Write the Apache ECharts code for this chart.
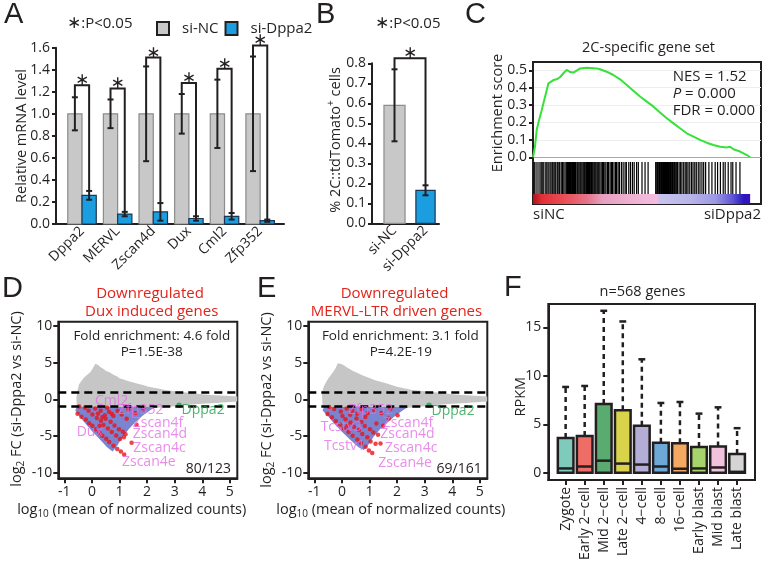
<!DOCTYPE html>
<html><head><meta charset="utf-8">
<script src="https://cdn.jsdelivr.net/npm/echarts@6.0.0/dist/echarts.min.js"></script>
<style>html,body{margin:0;padding:0;background:#fff;}#chart{width:762px;height:563px;}</style>
</head><body><div id="chart"></div>
<script>
// ================= DATA =================
// Panel A
const genesA = ['Dppa2', 'MERVL', 'Zscan4d', 'Dux', 'Cml2', 'Zfp352'];
const ncMeanA = [1.0, 1.0, 1.0, 1.0, 1.0, 1.0];
const ncErrA = [0.15, 0.13, 0.43, 0.18, 0.31, 0.52];
const kdMeanA = [0.26, 0.09, 0.11, 0.05, 0.07, 0.03];
const kdErrA = [0.04, 0.02, 0.08, 0.02, 0.03, 0.01];
const sigLevelA = [1.26, 1.23, 1.51, 1.28, 1.41, 1.62];
const legendA = ['si-NC', 'si-Dppa2'];
// Panel B
const groupsB = ['si-NC', 'si-Dppa2'];
const meanB = [0.59, 0.165];
const errB = [0.18, 0.025];
const sigLevelB = 0.825;
// Panel C (GSEA)
const esRank = [0, 0.9, 1.7, 2.8, 4.0, 4.8, 6.0, 7.1, 7.8, 9.4, 10.9, 12.4, 14.0, 15.5, 17.1, 18.6, 20.1, 21.7, 24.7, 29.3, 30.9, 33.9, 37.0, 40.1, 43.2, 46.2, 49.3, 52.4, 55.5, 58.5, 61.6, 64.7, 67.7, 70.8, 73.9, 76.9, 80.0, 83.1, 86.2, 89.2, 90.8, 92.3, 95.4, 98.5, 100];
const esScore = [0, 0.06, 0.157, 0.215, 0.27, 0.31, 0.37, 0.425, 0.435, 0.444, 0.448, 0.46, 0.483, 0.502, 0.49, 0.487, 0.498, 0.511, 0.515, 0.511, 0.506, 0.492, 0.473, 0.448, 0.416, 0.383, 0.349, 0.32, 0.291, 0.257, 0.224, 0.195, 0.167, 0.138, 0.119, 0.10, 0.084, 0.071, 0.061, 0.057, 0.061, 0.046, 0.033, 0.013, 0];
const hitRank = [0.6, 1.4, 2.3, 3.2, 3.8, 4.5, 5.0, 5.9, 6.4, 7.0, 7.8, 8.3, 8.9, 9.6, 10.1, 10.5, 11.2, 11.9, 12.3, 13.0, 13.6, 14.2, 14.8,
  15.5, 15.9, 16.4, 16.8, 17.3, 17.8, 18.2, 18.7, 19.1, 19.6, 20.2, 20.6, 21.1, 21.6, 22.0, 22.5,
  23.0, 23.4, 23.8, 24.3, 24.7, 25.1, 25.6, 26.0, 26.4, 26.9, 27.3, 27.7, 28.2, 28.6, 29.0, 29.5, 29.9, 30.3, 30.8,
  31.4, 32.0, 32.5, 33.1, 33.6, 34.3, 34.8, 35.5, 36.1, 36.6, 37.3, 38.0, 38.5, 39.2, 39.8,
  40.7, 41.5, 42.4, 43.0, 44.1, 44.9, 45.8, 46.6, 47.7, 48.5, 50.2, 51.6, 53.0,
  56.5, 57.0, 57.4, 57.9, 58.3, 58.8, 59.2, 59.7, 60.1, 60.6, 61.0, 61.5, 61.9, 62.4, 62.8, 63.3, 63.7, 64.2, 64.6, 65.1, 65.5, 66.0, 66.6,
  67.3, 68.0, 68.6, 69.4, 70.1, 70.8, 71.4, 72.2, 73.0, 73.7, 74.5, 75.2, 76.1, 76.9, 77.8, 78.6, 79.5,
  81.0, 82.4, 83.9, 85.0, 86.3, 87.6, 88.5, 89.9, 91.2, 92.0, 93.5, 95.3];
const rankColorStops = [[0, '#b0101c'], [4, '#e03038'], [15, '#ec5058'], [25, '#e47488'], [32, '#e8a0c0'], [50, '#f2b6d8'], [57, '#f4bce0'], [58, '#c8c4ec'], [72, '#b8b6ea'], [84, '#9c98e4'], [92, '#5c54d4'], [97, '#2a18c0'], [100, '#3a10b8']];
const statsC = ['NES = 1.52', '{i|P} = 0.000', 'FDR = 0.000'];
const axisEndsC = ['siNC', 'siDppa2'];
// Panel D (MA plot, Dux induced genes)
const dGray = [[-0.55, -1.05], [-0.56, 0.3], [-0.52, 1.2], [-0.47, 2.0], [-0.38, 2.5], [-0.3, 2.9], [-0.18, 3.3], [-0.05, 3.7], [0.03, 4.2], [0.12, 4.8], [0.22, 4.7], [0.3, 4.4], [0.4, 4.2], [0.5, 3.9], [0.62, 3.7], [0.8, 3.3], [0.92, 3.1], [1.0, 2.85], [1.15, 2.7], [1.3, 2.5], [1.5, 2.3], [1.7, 2.1], [1.85, 1.95], [2.05, 1.7], [2.2, 1.6], [2.45, 1.45], [2.6, 1.3], [2.85, 1.15], [3.0, 1.1], [3.3, 0.95], [3.5, 0.9], [3.8, 0.75], [4.0, 0.7], [4.3, 0.6], [4.5, 0.55], [5.0, 0.45], [5.27, 0.4], [5.27, -0.3], [4.5, -0.5], [4.0, -0.6], [3.5, -0.75], [3.0, -0.95], [2.6, -1.1], [2.3, -1.15], [2.0, -1.05]];
const dBlue = [[-0.55, -1.05], [2.3, -1.05], [2.1, -1.5], [1.85, -2.2], [1.6, -3.0], [1.35, -4.0], [1.1, -5.2], [0.9, -6.4], [0.75, -7.1], [0.55, -6.5], [0.3, -5.5], [0.0, -4.3], [-0.25, -3.2], [-0.45, -2.3], [-0.6, -1.5]];
const dRed = [[-0.46, -0.98], [-0.52, -1.95], [-0.38, -2.35], [-0.22, -2.75], [-0.1, -3.25], [0.02, -3.6], [0.14, -4.05], [0.27, -4.5], [0.38, -4.95], [0.52, -5.35], [0.63, -5.8], [0.78, -6.3], [0.92, -6.75], [1.05, -7.1], [1.17, -7.5],
  [-0.12, -1.55], [0.02, -2.05], [0.18, -2.55], [0.33, -2.9], [0.42, -3.5], [0.58, -3.95], [0.72, -4.45], [0.88, -4.9], [1.02, -5.4], [1.16, -5.15],
  [0.5, -2.65], [0.68, -3.05], [0.82, -3.55], [0.98, -4.05], [1.12, -4.4], [1.22, -4.75],
  [-0.25, -1.15], [0.12, -1.25], [0.32, -1.55], [0.47, -2.15], [0.62, -1.7], [0.78, -2.25], [0.93, -1.55], [1.08, -2.05], [1.26, -2.65], [1.32, -1.35], [1.62, -3.47], [1.44, -5.9], [1.58, -1.85], [1.87, -1.25], [0.38, -2.45], [0.22, -1.95], [0.55, -1.15], [0.72, -1.95], [0.28, -3.6]];
const dDppa2 = [3.16, -0.82];
const dLabelNames = ['Cml2', 'Zfp352', 'Dux', 'Zscan4f', 'Zscan4d', 'Zscan4c', 'Zscan4e', 'Dppa2'];
const dLabelAt = [[0.11, -0.2], [0.95, -1.5], [-0.55, -4.47], [1.48, -3.15], [1.48, -4.7], [1.5, -6.66], [1.09, -8.53], [3.25, -1.5]];
const dNotes = ['Downregulated', 'Dux induced genes', 'Fold enrichment: 4.6 fold', 'P=1.5E-38', '80/123'];
// Panel E (MA plot, MERVL-LTR driven genes)
const eGray = [[-0.7, -1.05], [-0.72, 0.5], [-0.7, 1.2], [-0.66, 1.7], [-0.58, 2.3], [-0.5, 2.8], [-0.4, 3.3], [-0.3, 3.8], [-0.22, 4.3], [-0.15, 4.9], [-0.02, 4.8], [0.1, 4.55], [0.2, 4.3], [0.3, 4.1], [0.42, 3.8], [0.55, 3.6], [0.7, 3.35], [0.85, 3.1], [1.0, 2.9], [1.2, 2.6], [1.4, 2.4], [1.6, 2.2], [1.8, 1.95], [2.0, 1.7], [2.25, 1.5], [2.5, 1.3], [2.75, 1.2], [3.0, 1.1], [3.5, 0.9], [4.0, 0.7], [4.5, 0.55], [5.0, 0.45], [5.27, 0.4], [5.27, -0.3], [4.5, -0.5], [4.0, -0.6], [3.5, -0.75], [3.0, -0.95], [2.6, -1.1], [2.3, -1.15], [2.0, -1.05]];
const eBlue = [[-0.65, -1.05], [2.4, -1.05], [2.2, -1.5], [1.95, -2.2], [1.7, -3.0], [1.4, -4.0], [1.15, -5.1], [0.95, -6.2], [0.8, -6.9], [0.6, -6.5], [0.3, -5.5], [0.0, -4.4], [-0.3, -3.2], [-0.5, -2.3], [-0.7, -1.5]];
const eRed = [[-0.46, -1.04], [-0.28, -1.3], [-0.04, -1.64], [0.17, -1.25], [0.38, -1.55], [0.72, -1.3], [0.93, -1.9], [1.17, -1.45], [1.43, -1.85], [1.76, -1.28], [2.02, -2.15],
  [-0.52, -1.98], [-0.36, -2.45], [-0.22, -2.95], [-0.06, -3.45], [0.08, -3.95], [0.24, -4.45], [0.39, -4.95], [0.56, -5.45], [0.69, -5.95], [0.86, -6.45], [0.98, -6.95], [1.1, -7.3],
  [0.02, -2.25], [0.13, -2.7], [0.31, -3.15], [0.44, -3.72], [0.62, -4.15], [0.74, -4.72], [0.92, -5.15], [1.04, -5.72], [1.22, -6.05],
  [0.53, -2.62], [0.71, -3.08], [0.83, -3.63], [1.02, -4.05], [1.14, -4.52], [1.31, -4.82],
  [0.3, -2.1], [0.85, -2.4], [1.25, -3.3], [1.5, -3.6], [1.4, -6.0], [1.7, -2.6], [0.55, -1.95], [0.2, -3.6]];
const eDppa2 = [3.16, -0.82];
const eLabelNames = ['Zfp352', 'Tcstv3', 'Tcstv1', 'Zscan4f', 'Zscan4d', 'Zscan4c', 'Zscan4e', 'Dppa2'];
const eLabelAt = [[0.22, -1.41], [-0.77, -3.7], [-0.65, -6.3], [1.48, -3.15], [1.39, -4.74], [1.56, -6.66], [1.32, -8.63], [3.25, -1.55]];
const eNotes = ['Downregulated', 'MERVL-LTR driven genes', 'Fold enrichment: 3.1 fold', 'P=4.2E-19', '69/161'];
const maTicksX = [-1, 0, 1, 2, 3, 4, 5];
const maTicksY = [-10, -5, 0, 5, 10];
// Panel F (boxplots)
const stagesF = ['Zygote', 'Early 2\u2212cell', 'Mid 2\u2212cell', 'Late 2\u2212cell', '4\u2212cell', '8\u2212cell', '16\u2212cell', 'Early blast', 'Mid blast', 'Late blast'];
const q1F = [0, 0, 0, 0, 0, 0, 0, 0, 0, 0];
const medF = [0.45, 0.65, 1.25, 0.95, 0.85, 0.65, 0.42, 0.45, 0.55, 0.1];
const q3F = [3.6, 3.8, 7.1, 6.45, 4.85, 3.1, 3.05, 2.65, 2.72, 1.95];
const hiF = [8.85, 8.95, 16.7, 15.6, 11.7, 7.2, 7.3, 6.1, 6.75, 4.6];
const ticksF = [0, 5, 10, 15];
const titleF = 'n=568 genes';

// ================= STYLE =================
const FONT = "'Open Sans', 'DejaVu Sans', sans-serif";
const LFONT = "'Liberation Sans', Arial, sans-serif";
const AX = '#231f20';
const GRAY = '#c8c8c8', BLUE = '#1a9ee0';
const RED = '#e2231a', VIOLET = '#e46fe6', GREEN = '#22a24a';
const colorsF = ['#7fcbbb', '#ee6e67', '#5aab70', '#d9d34b', '#b4aed6', '#6ea8d6', '#f4a862', '#a6d36a', '#f2c2dc', '#d5d5d5'];
const STAR = "17px 'DejaVu Sans'";

const axLine = { show: true, onZero: false, lineStyle: { color: AX, width: 2 } };
const axTick = { show: true, inside: false, length: 4, lineStyle: { color: AX, width: 2 } };
const lab = o => Object.assign({ color: AX, fontSize: 14, fontFamily: FONT }, o);
const noSplit = { show: false };

function barErr(dc, hw, fills, strokes) {
  return (p, api) => {
    const i = api.value(0), m = api.value(1), e = api.value(2);
    const k = p.dataIndex;
    const fill = Array.isArray(fills) ? fills[k] : fills;
    const stroke = Array.isArray(strokes) ? strokes[k] : strokes;
    const xc = i + dc;
    const halfW = Array.isArray(hw) ? hw[k] : hw;
    const a = api.coord([xc - halfW, m]), b = api.coord([xc + halfW, 0]);
    const t = api.coord([xc, m + e]), bt = api.coord([xc, Math.max(m - e, 0)]);
    const cap = 3;
    return { type: 'group', children: [
      { type: 'rect', shape: { x: a[0], y: a[1], width: b[0] - a[0], height: b[1] - a[1] }, style: { fill: fill, stroke: stroke, lineWidth: 1.2 } },
      { type: 'line', shape: { x1: t[0], y1: t[1], x2: bt[0], y2: bt[1] }, style: { stroke: AX, lineWidth: 2 } },
      { type: 'line', shape: { x1: t[0] - cap, y1: t[1], x2: t[0] + cap, y2: t[1] }, style: { stroke: AX, lineWidth: 2 } },
      { type: 'line', shape: { x1: bt[0] - cap, y1: bt[1], x2: bt[0] + cap, y2: bt[1] }, style: { stroke: AX, lineWidth: 2 } }
    ] };
  };
}
function bracket(dx) {
  return (p, api) => {
    const i = api.value(0), a = api.value(1), b = api.value(2), L = api.value(3);
    const pts = [api.coord([i - dx, a]), api.coord([i - dx, L]), api.coord([i + dx, L]), api.coord([i + dx, b])];
    const c = api.coord([i, L]);
    return { type: 'group', children: [
      { type: 'polyline', shape: { points: pts }, style: { stroke: AX, lineWidth: 2, fill: null } },
      { type: 'text', x: c[0], y: c[1] + 4, style: { text: '\u2217', font: STAR, fill: AX, align: 'center', verticalAlign: 'bottom' } }
    ] };
  };
}
function poly(gi, pts, color) {
  return { type: 'custom', xAxisIndex: gi, yAxisIndex: gi, silent: true, clip: true, data: [[0, 0]],
    renderItem: (p, api) => ({ type: 'polygon', shape: { points: pts.map(q => api.coord(q)) }, style: { fill: color } }) };
}
function maSeries(gi, gray, blue, red, dppa, names, at) {
  return [
    poly(gi, gray, '#c6c6c6'),
    poly(gi, blue, '#7b85cf'),
    { type: 'scatter', xAxisIndex: gi, yAxisIndex: gi, silent: true, symbolSize: 4.5, itemStyle: { color: '#e8141c' }, data: red,
      markLine: { silent: true, symbol: 'none', label: { show: false }, lineStyle: { color: '#000', type: [8, 5], width: 2.5 }, data: [{ yAxis: 1 }, { yAxis: -1 }] } },
    { type: 'scatter', xAxisIndex: gi, yAxisIndex: gi, silent: true, symbolSize: 5.5, itemStyle: { color: GREEN }, data: [dppa] },
    { type: 'scatter', xAxisIndex: gi, yAxisIndex: gi, silent: true, symbolSize: 0, z: 10,
      data: names.map((n, k) => ({ value: at[k], name: n, label: { color: n === 'Dppa2' ? GREEN : VIOLET } })),
      label: { show: true, position: 'right', distance: 0, formatter: '{b}', fontSize: 14, fontFamily: FONT } }
  ];
}
function maAxesX(gi) {
  return { gridIndex: gi, type: 'value', min: -1.217, max: 5.27, axisLine: axLine,
    axisTick: Object.assign({}, axTick, { length: 5, customValues: maTicksX }),
    axisLabel: lab({ customValues: maTicksX, margin: 7 }), splitLine: noSplit };
}
function maAxesY(gi) {
  return { gridIndex: gi, type: 'value', min: -10.73, max: 10.55, axisLine: axLine,
    axisTick: Object.assign({}, axTick, { length: 5, customValues: maTicksY }),
    axisLabel: lab({ customValues: maTicksY, margin: 6 }), splitLine: noSplit };
}

// text helpers
function txt(x, y, s, o) {
  o = o || {};
  return { type: 'text', x: x, y: y, rotation: o.rot || 0, z: 100,
    style: { text: s, font: (o.italic ? 'italic ' : '') + (o.size || 14) + 'px ' + (o.family || FONT), fill: o.color || AX,
      align: o.align || 'left', verticalAlign: 'middle', rich: o.rich } };
}
const richSub = (size) => ({ t: { fontSize: size, fontFamily: FONT, fill: AX }, s: { fontSize: 10, fontFamily: FONT, fill: AX, verticalAlign: 'bottom', padding: [9, 0, 0, 0] } });

const graphics = [
  txt(4, 15, 'A', { size: 29, family: LFONT }),
  txt(316, 15, 'B', { size: 29, family: LFONT }),
  txt(465, 15, 'C', { size: 29, family: LFONT }),
  txt(2, 289, 'D', { size: 29, family: LFONT }),
  txt(257, 289, 'E', { size: 29, family: LFONT }),
  txt(504, 288, 'F', { size: 29, family: LFONT }),
  txt(67, 24, '{a|\u2217}:P<0.05', { size: 15, rich: { a: { font: STAR, fill: AX } } }),
  txt(375, 24, '{a|\u2217}:P<0.05', { size: 15, rich: { a: { font: STAR, fill: AX } } }),
  txt(22, 136, 'Relative mRNA level', { size: 14.5, rot: Math.PI / 2, align: 'center' }),
  txt(335.5, 140, '% 2C::tdTomato{p|+} cells', { size: 14.5, rot: Math.PI / 2, align: 'center', rich: { p: { fontSize: 10, fontFamily: FONT, fill: AX, verticalAlign: 'top', padding: [0, 0, 9, 0] } } }),
  txt(648.5, 48, '2C-specific gene set', { size: 14.5, align: 'center' }),
  txt(497.5, 113, 'Enrichment score', { size: 14.5, rot: Math.PI / 2, align: 'center' }),
  txt(672.7, 76.7, statsC[0], { size: 15 }),
  txt(672.7, 93.5, statsC[1], { size: 15, rich: { i: { fontStyle: 'italic', fontSize: 15, fontFamily: FONT, fill: AX } } }),
  txt(672.7, 111, statsC[2], { size: 15 }),
  txt(533, 215, axisEndsC[0], { size: 15 }),
  txt(761, 215, axisEndsC[1], { size: 15, align: 'right' }),
  // D
  txt(150, 293.5, dNotes[0], { size: 15, align: 'center', color: RED }),
  txt(151.7, 311.5, dNotes[1], { size: 15, align: 'center', color: RED }),
  txt(151.8, 335.8, dNotes[2], { size: 13.5, align: 'center' }),
  txt(151.7, 352.3, dNotes[3], { size: 13.5, align: 'center' }),
  txt(231, 469.3, dNotes[4], { size: 14, align: 'right' }),
  txt(17, 399, '{t|log}{s|2}{t| FC (si-Dppa2 vs si-NC)}', { size: 14.5, rot: Math.PI / 2, align: 'center', rich: richSub(14.5) }),
  txt(131.7, 510, '{t|log}{s|10}{t| (mean of normalized counts)}', { size: 14.5, align: 'center', rich: richSub(14.5) }),
  // E
  txt(394.5, 293.5, eNotes[0], { size: 15, align: 'center', color: RED }),
  txt(396.5, 311.5, eNotes[1], { size: 15, align: 'center', color: RED }),
  txt(400.3, 335.8, eNotes[2], { size: 13.5, align: 'center' }),
  txt(400.8, 352.3, eNotes[3], { size: 13.5, align: 'center' }),
  txt(481.7, 469.3, eNotes[4], { size: 14, align: 'right' }),
  txt(267, 400, '{t|log}{s|2}{t| FC (si-Dppa2 vs si-NC)}', { size: 14.5, rot: Math.PI / 2, align: 'center', rich: richSub(14.5) }),
  txt(390.8, 510, '{t|log}{s|10}{t| (mean of normalized counts)}', { size: 14.5, align: 'center', rich: richSub(14.5) }),
  // F
  txt(642.5, 292, titleF, { size: 14.5, align: 'center' }),
  txt(521, 396.7, 'RPKM', { size: 14.5, rot: Math.PI / 2, align: 'center' })
];

const option = {
  animation: false,
  backgroundColor: '#fff',
  legend: { left: 151, top: 16, icon: 'rect', itemWidth: 12, itemHeight: 13, itemGap: 6,
    textStyle: { fontSize: 15, fontFamily: FONT, color: AX, padding: [0, 0, 0, 8] },
    data: legendA.map(n => ({ name: n, itemStyle: { borderColor: AX, borderWidth: 2 } })) },
  grid: [
    { left: 56, top: 47.7, width: 228, height: 176.3 },
    { left: 372, top: 63.3, width: 67, height: 160 },
    { left: 533, top: 62, width: 228, height: 142, show: true, borderColor: AX, borderWidth: 2, backgroundColor: 'transparent' },
    { left: 533, top: 70.3, width: 228, height: 87 },
    { left: 533, top: 162, width: 228, height: 42 },
    { left: 58.3, top: 321.7, width: 179, height: 156.6, show: true, borderColor: AX, borderWidth: 2, backgroundColor: 'transparent' },
    { left: 308.3, top: 321.7, width: 179, height: 156.6, show: true, borderColor: AX, borderWidth: 2, backgroundColor: 'transparent' },
    { left: 548.3, top: 304, width: 206.7, height: 181, show: true, borderColor: AX, borderWidth: 2, backgroundColor: 'transparent' }
  ],
  xAxis: [
    { gridIndex: 0, type: 'value', min: -0.73, max: 5.67, axisLine: axLine, axisTick: { show: false }, splitLine: noSplit,
      axisLabel: lab({ customValues: [0, 1, 2, 3, 4, 5], formatter: v => genesA[Math.round(v)], rotate: 45, margin: 5 }) },
    { gridIndex: 1, type: 'value', min: -0.726, max: 1.435, axisLine: axLine, axisTick: { show: false }, splitLine: noSplit,
      axisLabel: lab({ customValues: [0, 1], formatter: v => groupsB[Math.round(v)], rotate: 45, margin: 5 }) },
    { gridIndex: 2, type: 'value', min: 0, max: 1, show: false },
    { gridIndex: 3, type: 'value', min: 0, max: 105, show: false },
    { gridIndex: 4, type: 'value', min: 0, max: 105, show: false },
    maAxesX(5), maAxesX(6),
    { gridIndex: 7, type: 'value', min: -0.91, max: 9.94, axisLine: axLine,
      axisTick: Object.assign({}, axTick, { length: 5, customValues: [0, 1, 2, 3, 4, 5, 6, 7, 8, 9] }),
      axisLabel: lab({ customValues: [0, 1, 2, 3, 4, 5, 6, 7, 8, 9], formatter: v => stagesF[Math.round(v)], rotate: 90, margin: 7 }), splitLine: noSplit }
  ],
  yAxis: [
    { gridIndex: 0, type: 'value', min: 0, max: 1.6, interval: 0.2, axisLine: axLine, axisTick: axTick, splitLine: noSplit,
      axisLabel: lab({ formatter: v => v.toFixed(1), margin: 6 }) },
    { gridIndex: 1, type: 'value', min: 0, max: 0.8, interval: 0.1, axisLine: axLine, axisTick: axTick, splitLine: noSplit,
      axisLabel: lab({ formatter: v => v.toFixed(1), margin: 6 }) },
    { gridIndex: 2, type: 'value', min: 0, max: 1, show: false },
    { gridIndex: 3, type: 'value', min: 0, max: 0.5, interval: 0.1, axisLine: axLine, axisTick: axTick,
      axisLabel: lab({ formatter: v => v.toFixed(1), margin: 6 }),
      splitLine: { show: true, lineStyle: { color: ['#a8a8a8', '#ededed', '#ededed', '#ededed', '#ededed', '#ededed'], width: 1 } } },
    { gridIndex: 4, type: 'value', min: 0, max: 1, show: false },
    maAxesY(5), maAxesY(6),
    { gridIndex: 7, type: 'value', min: -0.73, max: 17.4, axisLine: axLine,
      axisTick: Object.assign({}, axTick, { length: 5, customValues: ticksF }),
      axisLabel: lab({ customValues: ticksF, margin: 7 }), splitLine: noSplit }
  ],
  series: [
    // A
    { type: 'custom', name: legendA[0], xAxisIndex: 0, yAxisIndex: 0, itemStyle: { color: GRAY }, silent: true,
      data: genesA.map((g, i) => [i, ncMeanA[i], ncErrA[i]]), renderItem: barErr(-0.2, 0.2, GRAY, '#8c8c8c') },
    { type: 'custom', name: legendA[1], xAxisIndex: 0, yAxisIndex: 0, itemStyle: { color: BLUE }, silent: true,
      data: genesA.map((g, i) => [i, kdMeanA[i], kdErrA[i]]), renderItem: barErr(0.2, 0.2, BLUE, '#1c3550') },
    { type: 'custom', xAxisIndex: 0, yAxisIndex: 0, silent: true, clip: false,
      data: genesA.map((g, i) => [i, ncMeanA[i] + ncErrA[i], kdMeanA[i] + kdErrA[i], sigLevelA[i]]), renderItem: bracket(0.2) },
    // B
    { type: 'custom', xAxisIndex: 1, yAxisIndex: 1, silent: true,
      data: groupsB.map((g, i) => [i, meanB[i], errB[i]]), renderItem: barErr(0, [0.34, 0.31], [GRAY, BLUE], ['#8c8c8c', '#1c3550']) },
    { type: 'custom', xAxisIndex: 1, yAxisIndex: 1, silent: true, clip: false,
      data: [[0.5, meanB[0] + errB[0], meanB[1] + errB[1], sigLevelB]], renderItem: bracket(0.5) },
    // C
    { type: 'line', xAxisIndex: 3, yAxisIndex: 3, silent: true, showSymbol: false, clip: false,
      lineStyle: { color: '#36e23a', width: 2 }, data: esRank.map((t, i) => [t, esScore[i]]) },
    { type: 'custom', xAxisIndex: 4, yAxisIndex: 4, silent: true, data: hitRank.map(t => [t, 0.5]),
      renderItem: (p, api) => { const a = api.coord([api.value(0), 0.238]), b = api.coord([api.value(0), 1]);
        return { type: 'line', shape: { x1: a[0], y1: a[1], x2: b[0], y2: b[1] }, style: { stroke: '#000', lineWidth: 1.2 } }; } },
    { type: 'custom', xAxisIndex: 4, yAxisIndex: 4, silent: true, data: [[0, 0]],
      renderItem: (p, api) => { const a = api.coord([0, 0.238]), b = api.coord([100, 0]);
        return { type: 'rect', shape: { x: a[0], y: a[1], width: b[0] - a[0], height: b[1] - a[1] },
          style: { fill: new echarts.graphic.LinearGradient(0, 0, 1, 0, rankColorStops.map(s => ({ offset: s[0] / 100, color: s[1] }))) } }; } },
    // D, E
    ...maSeries(5, dGray, dBlue, dRed, dDppa2, dLabelNames, dLabelAt),
    ...maSeries(6, eGray, eBlue, eRed, eDppa2, eLabelNames, eLabelAt),
    // F
    { type: 'custom', xAxisIndex: 7, yAxisIndex: 7, silent: true,
      data: stagesF.map((s, i) => [i, q1F[i], medF[i], q3F[i], hiF[i]]),
      renderItem: (p, api) => {
        const i = api.value(0), q1 = api.value(1), md = api.value(2), q3 = api.value(3), hi = api.value(4);
        const hw = 0.41, cw = 0.18;
        const a = api.coord([i - hw, q3]), b = api.coord([i + hw, q1]);
        const m0 = api.coord([i - hw, md]), m1 = api.coord([i + hw, md]);
        const w0 = api.coord([i, q3]), w1 = api.coord([i, hi]);
        const c0 = api.coord([i - cw, hi]), c1 = api.coord([i + cw, hi]);
        return { type: 'group', children: [
          { type: 'line', shape: { x1: w0[0], y1: w0[1], x2: w1[0], y2: w1[1] }, style: { stroke: AX, lineWidth: 2.5, lineDash: [5, 4] } },
          { type: 'line', shape: { x1: c0[0], y1: c0[1], x2: c1[0], y2: c1[1] }, style: { stroke: AX, lineWidth: 2.5 } },
          { type: 'rect', shape: { x: a[0], y: a[1], width: b[0] - a[0], height: b[1] - a[1] }, style: { fill: colorsF[p.dataIndex], stroke: AX, lineWidth: 2.5 } },
          { type: 'line', shape: { x1: m0[0], y1: m0[1], x2: m1[0], y2: m1[1] }, style: { stroke: AX, lineWidth: 2.5 } }
        ] };
      } }
  ],
  graphic: graphics
};
const chart = echarts.init(document.getElementById('chart'), null, { renderer: 'canvas' });
chart.setOption(option);
</script></body></html>
